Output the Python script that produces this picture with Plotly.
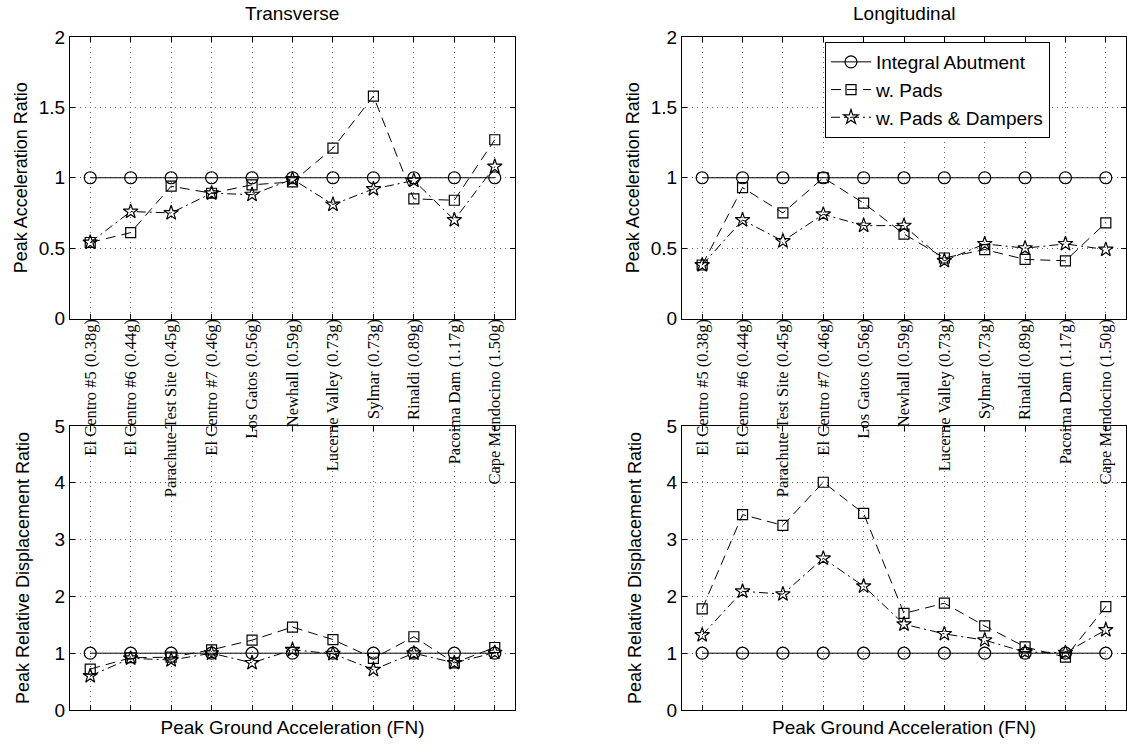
import plotly.graph_objects as go

# ---------------- data ----------------
categories = [
    "El Centro #5 (0.38g)", "El Centro #6 (0.44g)", "Parachute Test Site (0.45g)",
    "El Centro #7 (0.46g)", "Los Gatos (0.56g)", "Newhall (0.59g)",
    "Lucerne Valley (0.73g)", "Sylmar (0.73g)", "Rinaldi (0.89g)",
    "Pacoima Dam (1.17g)", "Cape Mendocino (1.50g)",
]
series_names = ["Integral Abutment", "w. Pads", "w. Pads & Dampers"]

# Transverse - peak acceleration ratio
trans_acc_integral = [1.0, 1.0, 1.0, 1.0, 1.0, 1.0, 1.0, 1.0, 1.0, 1.0, 1.0]
trans_acc_pads = [0.54, 0.61, 0.94, 0.89, 0.95, 0.97, 1.21, 1.58, 0.85, 0.84, 1.27]
trans_acc_dampers = [0.54, 0.76, 0.75, 0.89, 0.88, 0.99, 0.81, 0.92, 0.98, 0.70, 1.08]

# Longitudinal - peak acceleration ratio
long_acc_integral = [1.0, 1.0, 1.0, 1.0, 1.0, 1.0, 1.0, 1.0, 1.0, 1.0, 1.0]
long_acc_pads = [0.38, 0.93, 0.75, 1.0, 0.82, 0.60, 0.43, 0.49, 0.42, 0.41, 0.68]
long_acc_dampers = [0.38, 0.70, 0.55, 0.74, 0.66, 0.66, 0.41, 0.53, 0.50, 0.53, 0.49]

# Transverse - peak relative displacement ratio
trans_disp_integral = [1.0, 1.0, 1.0, 1.0, 1.0, 1.0, 1.0, 1.0, 1.0, 1.0, 1.0]
trans_disp_pads = [0.72, 0.92, 0.93, 1.06, 1.23, 1.46, 1.24, 0.91, 1.29, 0.83, 1.10]
trans_disp_dampers = [0.60, 0.91, 0.88, 1.00, 0.83, 1.06, 0.99, 0.71, 1.00, 0.83, 1.01]

# Longitudinal - peak relative displacement ratio
long_disp_integral = [1.0, 1.0, 1.0, 1.0, 1.0, 1.0, 1.0, 1.0, 1.0, 1.0, 1.0]
long_disp_pads = [1.78, 3.44, 3.25, 4.01, 3.46, 1.70, 1.88, 1.48, 1.11, 0.93, 1.82]
long_disp_dampers = [1.32, 2.09, 2.04, 2.67, 2.18, 1.51, 1.34, 1.23, 1.02, 1.01, 1.41]

# ---------------- styling ----------------
W, H = 1127, 744
SANS = "Liberation Sans, Arial, Helvetica, sans-serif"
SERIF = "Liberation Serif, Times New Roman, serif"

styles = [
    dict(symbol="circle-open", size=12, dash="solid"),
    dict(symbol="square-open", size=10, dash="10px,6px"),
    dict(symbol="star-open", size=11, dash="9px,4px,2px,4px"),
]

panels = [
    ("x", "y", [trans_acc_integral, trans_acc_pads, trans_acc_dampers], False),
    ("x2", "y2", [long_acc_integral, long_acc_pads, long_acc_dampers], True),
    ("x3", "y3", [trans_disp_integral, trans_disp_pads, trans_disp_dampers], False),
    ("x4", "y4", [long_disp_integral, long_disp_pads, long_disp_dampers], False),
]

fig = go.Figure()
for xa, ya, series, leg in panels:
    for name, vals, st in zip(series_names, series, styles):
        fig.add_trace(go.Scatter(
            x=categories, y=vals, name=name, xaxis=xa, yaxis=ya,
            mode="lines+markers", showlegend=leg,
            line=dict(color="black", width=1, dash=st["dash"]),
            marker=dict(symbol=st["symbol"], size=st["size"], color="black",
                        line=dict(color="black", width=1.2)),
        ))

def px_x(p):
    return p / W

def px_y(p):
    return 1 - p / H

x_left = [px_x(70), px_x(515)]
x_right = [px_x(682), px_x(1126)]
y_top = [px_y(318.5), px_y(37)]
y_bot = [px_y(710), px_y(426)]

common_axis = dict(
    showline=True, linecolor="black", linewidth=1, mirror="ticks",
    ticks="inside", ticklen=5, tickcolor="black",
    showgrid=True, gridcolor="#6a6a6a", griddash="1px,4px", gridwidth=1,
    zeroline=False, automargin=False,
)

def xaxis(domain, anchor, labels, title=None):
    d = dict(common_axis)
    d.update(domain=domain, anchor=anchor, type="category",
             range=[-0.5, 10.5], tickangle=-90, ticklabelstandoff=-7,
             tickfont=dict(family=SERIF, size=16.5, color="black"))
    if not labels:
        d.update(showticklabels=False)
    if title:
        d.update(title=dict(text=title, standoff=10,
                            font=dict(family=SANS, size=19, color="black")))
    return d

def yaxis(domain, anchor, rng, dtick, title, standoff):
    d = dict(common_axis)
    d.update(domain=domain, anchor=anchor, range=rng, dtick=dtick,
             tickfont=dict(family=SANS, size=19, color="black"),
             title=dict(text=title, standoff=standoff,
                        font=dict(family=SANS, size=18, color="black")))
    return d

fig.update_layout(
    width=W, height=H,
    margin=dict(l=0, r=0, t=0, b=0),
    paper_bgcolor="white", plot_bgcolor="rgba(0,0,0,0)",
    font=dict(family=SANS, color="black"),
    xaxis=xaxis(x_left, "y", True),
    xaxis2=xaxis(x_right, "y2", True),
    xaxis3=xaxis(x_left, "y3", False, "Peak Ground Acceleration (FN)"),
    xaxis4=xaxis(x_right, "y4", False, "Peak Ground Acceleration (FN)"),
    yaxis=yaxis(y_top, "x", [0, 2], 0.5, "Peak Acceleration Ratio", 6),
    yaxis2=yaxis(y_top, "x2", [0, 2], 0.5, "Peak Acceleration Ratio", 6),
    yaxis3=yaxis(y_bot, "x3", [0, 5], 1, "Peak Relative Displacement Ratio", 20),
    yaxis4=yaxis(y_bot, "x4", [0, 5], 1, "Peak Relative Displacement Ratio", 20),
    legend=dict(
        x=px_x(825), y=px_y(42), xanchor="left", yanchor="top",
        bgcolor="white", bordercolor="black", borderwidth=1,
        font=dict(family=SANS, size=19, color="black"),
        itemwidth=40, tracegroupgap=0,
    ),
    annotations=[
        dict(text="Transverse", x=(x_left[0] + x_left[1]) / 2, y=px_y(14),
             xref="paper", yref="paper", showarrow=False,
             xanchor="center", yanchor="middle",
             font=dict(family=SANS, size=19, color="black")),
        dict(text="Longitudinal", x=(x_right[0] + x_right[1]) / 2, y=px_y(14),
             xref="paper", yref="paper", showarrow=False,
             xanchor="center", yanchor="middle",
             font=dict(family=SANS, size=19, color="black")),
    ],
)

# remove the browser's default 8px page margin so the figure fills the window
fig.write_html("out.html",
               config={"displayModeBar": False},
               post_script="document.body.style.margin='0px';document.body.style.overflow='hidden';")
